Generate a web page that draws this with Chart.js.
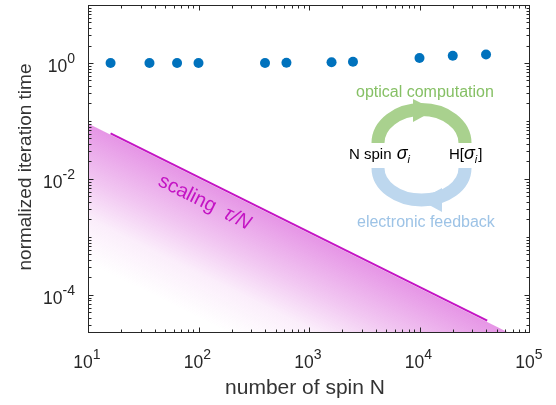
<!DOCTYPE html>
<html>
<head>
<meta charset="utf-8">
<script src="https://cdn.jsdelivr.net/npm/chart.js@4"></script>
<style>
  html, body { margin: 0; padding: 0; background: #fff; }
  canvas { display: block; }
</style>
</head>
<body>
<canvas id="chart" width="556" height="405"></canvas>
<script>
// measured iteration time (normalized) vs number of spins
const spinN = [16, 36, 64, 100, 400, 625, 1600, 2500, 10000, 20000, 40000];
const iterTime = [1.0, 1.0, 1.0, 1.0, 1.0, 1.01, 1.03, 1.05, 1.22, 1.33, 1.4];

// tau/N reference line and the shaded region below it
const scalingN = [16, 41000];
const scalingT = [0.061, 3.6e-5];
const shadeN = [10, 65000];
const shadeT = [0.09, 2.2e-5];

// axis decades
const xTickExp = [1, 2, 3, 4, 5];
const yTickExp = [0, -2, -4];
const xDecades = [1, 2, 3, 4];
const yDecades = [-5, -4, -3, -2, -1, 0];

const FONT = '"Liberation Sans", Arial, sans-serif';
const INK = '#262626';

const toPoints = (xs, ys) => xs.map((x, i) => ({ x: x, y: ys[i] }));

// gradient running perpendicular to the tau/N edge, fading towards lower left
function shadeFill(c) {
  const chart = c.chart;
  const sx = chart.scales.x, sy = chart.scales.y;
  if (!chart.chartArea || !sx || !sy) return 'rgba(225,130,225,0.4)';
  const x0 = sx.getPixelForValue(shadeN[0]), y0 = sy.getPixelForValue(shadeT[0]);
  const x1 = sx.getPixelForValue(shadeN[1]), y1 = sy.getPixelForValue(shadeT[1]);
  const len = Math.hypot(x1 - x0, y1 - y0);
  const nx = -(y1 - y0) / len, ny = (x1 - x0) / len;
  const mx = (x0 + x1) / 2, my = (y0 + y1) / 2;
  const g = chart.ctx.createLinearGradient(mx, my, mx + nx * 125, my + ny * 125);
  g.addColorStop(0, 'rgba(218,100,218,0.68)');
  g.addColorStop(0.4, 'rgba(218,100,218,0.36)');
  g.addColorStop(0.68, 'rgba(218,100,218,0.11)');
  g.addColorStop(1, 'rgba(218,100,218,0)');
  return g;
}

// "10" with a superscript exponent
function drawPow(ctx, exp, x, y, align) {
  ctx.font = '17.5px ' + FONT;
  const wb = ctx.measureText('10').width;
  ctx.font = '14px ' + FONT;
  const ws = ctx.measureText(String(exp)).width;
  const start = align === 'right' ? x - wb - ws : x - (wb + ws) / 2;
  ctx.textAlign = 'left';
  ctx.textBaseline = 'alphabetic';
  ctx.font = '17.5px ' + FONT;
  ctx.fillText('10', start, y);
  ctx.font = '14px ' + FONT;
  ctx.fillText(String(exp), start + wb, y - 9);
}

function drawSigma(ctx, x, y) {
  ctx.font = 'italic 18px ' + FONT;
  ctx.fillText('\u03C3', x, y);
  const w = ctx.measureText('\u03C3').width;
  ctx.font = 'italic 11px ' + FONT;
  ctx.fillText('i', x + w, y + 4);
  return w + ctx.measureText('i').width;
}

function tri(ctx, pts) {
  ctx.beginPath();
  ctx.moveTo(pts[0][0], pts[0][1]);
  ctx.lineTo(pts[1][0], pts[1][1]);
  ctx.lineTo(pts[2][0], pts[2][1]);
  ctx.closePath();
  ctx.fill();
}

const decorPlugin = {
  id: 'decor',
  afterDatasetsDraw(chart) {
    const ctx = chart.ctx;
    const a = chart.chartArea;
    const sx = chart.scales.x, sy = chart.scales.y;
    const L = Math.round(a.left) + 0.5, R = Math.round(a.right) - 0.5;
    const T = Math.round(a.top) + 0.5, B = Math.round(a.bottom) - 0.5;
    ctx.save();

    // box
    ctx.strokeStyle = INK;
    ctx.lineWidth = 1;
    ctx.strokeRect(L, T, R - L, B - T);

    // inward ticks, all four sides
    ctx.beginPath();
    xDecades.forEach(d => {
      for (let k = 1; k <= 9; k++) {
        const v = k * Math.pow(10, d);
        const px = Math.round(sx.getPixelForValue(v)) + 0.5;
        const len = k === 1 ? 5 : 3;
        ctx.moveTo(px, B); ctx.lineTo(px, B - len);
        ctx.moveTo(px, T); ctx.lineTo(px, T + len);
      }
    });
    yDecades.forEach(d => {
      for (let k = 1; k <= 9; k++) {
        const v = k * Math.pow(10, d);
        if (v < sy.min || v > sy.max) continue;
        const py = Math.round(sy.getPixelForValue(v)) + 0.5;
        const len = (k === 1 && yTickExp.includes(d)) ? 5 : 3;
        ctx.moveTo(L, py); ctx.lineTo(L + len, py);
        ctx.moveTo(R, py); ctx.lineTo(R - len, py);
      }
    });
    ctx.stroke();

    // tick labels
    ctx.fillStyle = INK;
    xTickExp.forEach(e => {
      drawPow(ctx, e, sx.getPixelForValue(Math.pow(10, e)) - 1, 368, 'center');
    });
    yTickExp.forEach(e => {
      drawPow(ctx, e, 75, sy.getPixelForValue(Math.pow(10, e)) + 9.5, 'right');
    });

    // axis titles
    ctx.fillStyle = '#333';
    ctx.font = '21px ' + FONT;
    ctx.textAlign = 'center';
    ctx.textBaseline = 'alphabetic';
    ctx.fillText('number of spin N', 305, 394);
    ctx.save();
    ctx.translate(31, 167);
    ctx.rotate(-Math.PI / 2);
    ctx.font = '19px ' + FONT;
    ctx.fillText('normalized iteration time', 0, 0);
    ctx.restore();

    // "scaling tau/N" along the line
    const lx0 = sx.getPixelForValue(scalingN[0]), ly0 = sy.getPixelForValue(scalingT[0]);
    const lx1 = sx.getPixelForValue(scalingN[1]), ly1 = sy.getPixelForValue(scalingT[1]);
    ctx.save();
    ctx.translate(157, 185);
    ctx.rotate(Math.atan2(ly1 - ly0, lx1 - lx0));
    ctx.fillStyle = '#c414c4';
    ctx.textAlign = 'left';
    ctx.font = '20px ' + FONT;
    ctx.fillText('scaling', 0, 0);
    const ws = ctx.measureText('scaling').width;
    ctx.font = 'italic 20px ' + FONT;
    ctx.fillText('\u03C4/N', ws + 11, 0);
    ctx.restore();

    // inset: optical computation / electronic feedback loop
    const cx = 421.5;
    ctx.lineWidth = 13;
    ctx.strokeStyle = '#a9d18e';
    ctx.fillStyle = '#a9d18e';
    ctx.beginPath();
    ctx.ellipse(cx, 143, 43.5, 33.5, 0, Math.PI, 2 * Math.PI);
    ctx.stroke();
    tri(ctx, [[435, 110], [413, 99], [413, 122]]);

    ctx.strokeStyle = '#bdd7ee';
    ctx.fillStyle = '#bdd7ee';
    ctx.beginPath();
    ctx.ellipse(cx, 168, 43.5, 32, 0, 0, Math.PI);
    ctx.stroke();
    tri(ctx, [[420, 200], [442, 188], [442, 212]]);

    ctx.textAlign = 'left';
    ctx.font = '16px ' + FONT;
    ctx.fillStyle = '#86c065';
    ctx.fillText('optical computation', 356, 96.5);
    ctx.fillStyle = '#9dc3e6';
    ctx.fillText('electronic feedback', 357, 226.5);

    ctx.fillStyle = '#000';
    ctx.font = '15px ' + FONT;
    ctx.fillText('N spin ', 349, 159);
    let w = ctx.measureText('N spin ').width;
    drawSigma(ctx, 349 + w + 1, 159);

    ctx.font = '15px ' + FONT;
    ctx.fillText('H[', 449, 159);
    w = ctx.measureText('H[').width;
    const wsig = drawSigma(ctx, 449 + w, 159);
    ctx.font = '15px ' + FONT;
    ctx.fillText(']', 449 + w + wsig + 1, 159);

    ctx.restore();
  }
};

new Chart(document.getElementById('chart'), {
  type: 'scatter',
  data: {
    datasets: [
      {
        label: 'iteration time',
        data: toPoints(spinN, iterTime),
        pointRadius: 5,
        pointBackgroundColor: '#0072bd',
        pointBorderWidth: 0,
        showLine: false
      },
      {
        label: 'scaling',
        data: toPoints(scalingN, scalingT),
        showLine: true,
        borderColor: '#c414c4',
        borderWidth: 2,
        pointRadius: 0,
        fill: false
      },
      {
        label: 'shade',
        data: toPoints(shadeN, shadeT),
        showLine: true,
        borderWidth: 0,
        borderColor: 'rgba(0,0,0,0)',
        pointRadius: 0,
        backgroundColor: shadeFill,
        fill: 'start'
      }
    ]
  },
  options: {
    responsive: false,
    devicePixelRatio: 1,
    animation: false,
    layout: { padding: { left: 88, top: 5, right: 26, bottom: 72 } },
    plugins: { legend: { display: false }, tooltip: { enabled: false } },
    scales: {
      x: { type: 'logarithmic', min: 10, max: 1e5, display: false },
      y: { type: 'logarithmic', min: 2.2e-5, max: 10, display: false }
    }
  },
  plugins: [decorPlugin]
});
</script>
</body>
</html>
